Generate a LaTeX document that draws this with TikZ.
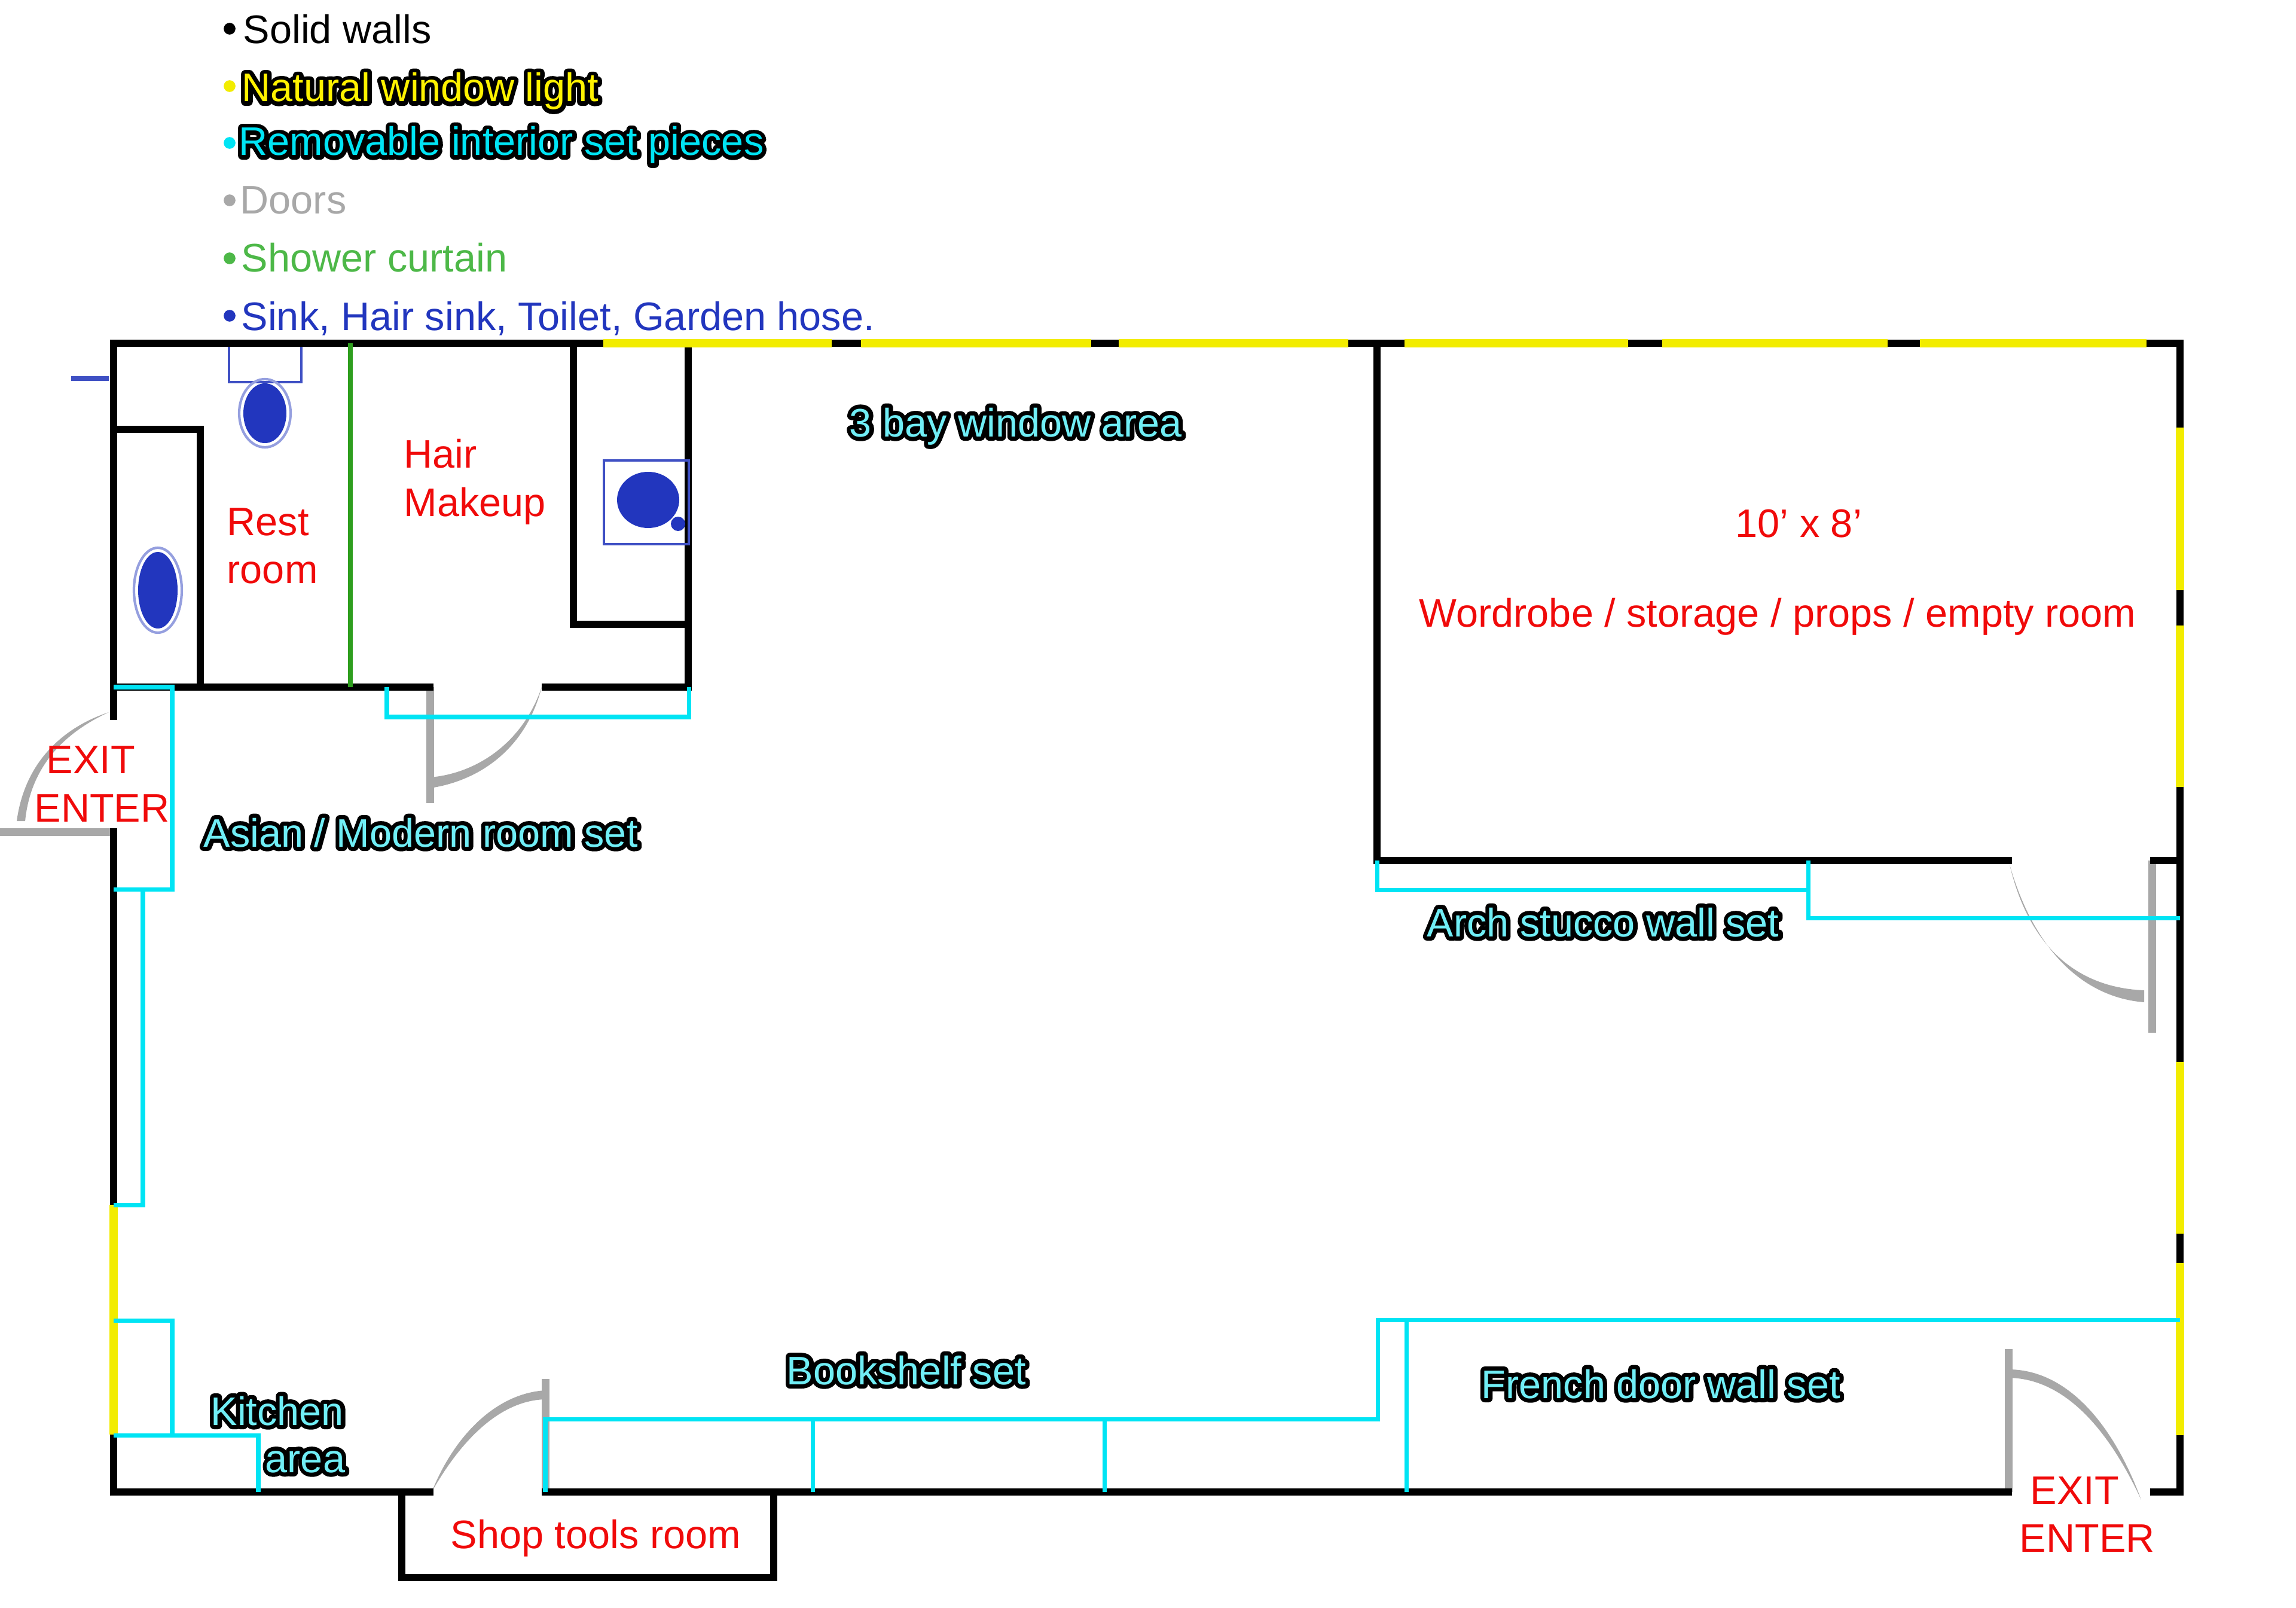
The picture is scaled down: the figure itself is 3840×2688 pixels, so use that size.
\documentclass[tikz,border=0pt]{standalone}
\usepackage{fontspec}
\setmainfont{Liberation Sans}
\usetikzlibrary{calc,positioning}
\definecolor{wallblack}{HTML}{000000}
\definecolor{windowyellow}{HTML}{F2EC00}
\definecolor{setcyan}{HTML}{00E4F4}
\definecolor{labelcyan}{HTML}{70EEF6}
\definecolor{doorgray}{HTML}{A8A8A8}
\definecolor{curtaingreen}{HTML}{2E9E1E}
\definecolor{legendgreen}{HTML}{4DB848}
\definecolor{fixtureblue}{HTML}{2236BE}
\definecolor{fixtureline}{HTML}{3F50C4}
\definecolor{roomred}{HTML}{F00A0A}
\newcommand{\outlined}[2]{\rlap{\special{pdf:code 1 j 1 J 4 w 0 0 0 RG 0 0 0 rg 2 Tr}#2\special{pdf:code 0 Tr}}\textcolor{#1}{#2}}
\begin{document}
\begin{tikzpicture}[x=0.01cm,y=-0.01cm]
    \tikzset{
        wall/.style={draw=wallblack,line width=3.6pt,line cap=rect},
        window/.style={draw=windowyellow,line width=3.9pt},
        setpiece/.style={draw=setcyan,line width=2pt},
        door/.style={draw=doorgray,line width=3.7pt},
        swing/.style={fill=doorgray},
        fixture/.style={draw=fixtureline,line width=1.2pt},
        txt/.style={inner sep=0pt,anchor=base west,font=\fontsize{18.95pt}{22pt}\selectfont},
        room/.style={txt,text=roomred},
        bullet/.style={circle,inner sep=0pt,minimum size=5.6pt},
    }
    \useasboundingbox (0,0) rectangle (3840,2688);

    \draw[door] (0,1391) -- (195,1391);
    \draw[door] (719,1149) -- (719,1343);
    \draw[door] (912,2306) -- (912,2495);
    \draw[door] (3599,1439) -- (3599,1727);
    \draw[door] (3359,2256) -- (3359,2495);
    \fill[swing] (28,1373) .. controls (42,1270) and (110,1215) .. (182,1191) .. controls (115,1222) and (52,1275) .. (42,1373) -- cycle;
    \fill[swing] (719,1300) .. controls (800,1293) and (875,1240) .. (906,1149) .. controls (880,1250) and (805,1305) .. (719,1318) -- cycle;
    \fill[swing] (912,2325) .. controls (830,2330) and (760,2400) .. (722,2495) .. controls (770,2410) and (835,2342) .. (912,2340) -- cycle;
    \fill[swing] (3586,1656) .. controls (3480,1652) and (3395,1590) .. (3361,1446) .. controls (3402,1590) and (3485,1668) .. (3586,1676) -- cycle;
    \fill[swing] (3359,2290) .. controls (3450,2290) and (3530,2370) .. (3581,2508) .. controls (3524,2385) and (3450,2305) .. (3359,2304) -- cycle;

    \draw[wall] (190,574) -- (3646,574);
    \draw[wall] (190,574) -- (190,1198);
    \draw[wall] (190,1391) -- (190,2495) -- (719,2495);
    \draw[wall] (912,2495) -- (3359,2495);
    \draw[wall] (3602,2495) -- (3646,2495) -- (3646,574);
    \draw[wall] (672,2495) -- (672,2638) -- (1294,2638) -- (1294,2495);
    \draw[wall] (190,718) -- (335,718) -- (335,1149);
    \draw[wall] (190,1149) -- (719,1149);
    \draw[wall] (912,1149) -- (1151,1149) -- (1151,574);
    \draw[wall] (959,574) -- (959,1044) -- (1151,1044);
    \draw[wall] (2303,574) -- (2303,1439) -- (3359,1439);
    \draw[wall] (3602,1439) -- (3646,1439);

    \foreach \xa/\xb in {1009/1391,1440/1825,1871/2255,2349/2723,2780/3157,3211/3590}
        \draw[window] (\xa,574) -- (\xb,574);
    \foreach \ya/\yb in {715/987,1046/1316,1776/2063,2112/2400}
        \draw[window] (3646,\ya) -- (3646,\yb);
    \draw[window] (190,2015) -- (190,2399);

    \draw[setpiece] (190,1149) -- (288,1149) -- (288,1487) -- (190,1487);
    \draw[setpiece] (239,1487) -- (239,2015) -- (190,2015);
    \draw[setpiece] (190,2208) -- (288,2208) -- (288,2400);
    \draw[setpiece] (190,2400) -- (432,2400) -- (432,2495);
    \draw[setpiece] (647,1149) -- (647,1199) -- (1152,1199) -- (1152,1149);
    \draw[setpiece] (912,2495) -- (912,2373) -- (2304,2373) -- (2304,2207) -- (3646,2207);
    \draw[setpiece] (1359,2373) -- (1359,2495);
    \draw[setpiece] (1847,2373) -- (1847,2495);
    \draw[setpiece] (2352,2207) -- (2352,2495);
    \draw[setpiece] (2303,1439) -- (2303,1488) -- (3024,1488);
    \draw[setpiece] (3024,1439) -- (3024,1535) -- (3646,1535);

    \draw[draw=curtaingreen,line width=2.2pt] (586,574) -- (586,1149);

    \draw[fixture,line width=2.2pt] (119,633) -- (182,633);
    \draw[fixture] (383,580) -- (383,639) -- (504,639) -- (504,580);
    \draw[fixture,draw=fixtureline!55] (443,691) ellipse (43 and 57);
    \fill[fixtureblue] (443,691) ellipse (36 and 50);
    \draw[fixture,draw=fixtureline!55] (264,987) ellipse (40 and 71);
    \fill[fixtureblue] (264,987) ellipse (33 and 64);
    \draw[fixture] (1010,770) rectangle (1152,910);
    \fill[fixtureblue] (1084,836) ellipse (52 and 47);
    \fill[fixtureblue] (1134,876) circle (12);

    \node[bullet,fill=black] (bulletwalls) at (384,48) {};
    \node[bullet,fill=windowyellow] (bulletlight) at (384,144) {};
    \node[bullet,fill=setcyan] (bulletset) at (384,239) {};
    \node[bullet,fill=doorgray] (bulletdoors) at (384,335) {};
    \node[bullet,fill=legendgreen] (bulletcurtain) at (384,432) {};
    \node[bullet,fill=fixtureblue] (bulletsink) at (384,528) {};
    \node[txt] (legendwalls) at (406,73) {Solid walls};
    \node[txt] (legendlight) at (404,170) {\outlined{yellow}{Natural window light}};
    \node[txt] (legendset) at (399,260) {\outlined{setcyan}{Removable interior set pieces}};
    \node[txt,text=doorgray] (legenddoors) at (401,358) {Doors};
    \node[txt,text=legendgreen] (legendcurtain) at (403,455) {Shower curtain};
    \node[txt,text=fixtureblue] (legendsink) at (403,552) {Sink, Hair sink, Toilet, Garden hose.};

    \node[room] (rest) at (379,895) {Rest};
    \node[room] (restb) at (379,975) {room};
    \node[room] (hair) at (675,782) {Hair};
    \node[room] (makeup) at (675,863) {Makeup};
    \node[room] (size) at (2902,898) {10’ x 8’};
    \node[room] (wordrobe) at (2373,1048) {Wordrobe / storage / props / empty room};
    \node[room] (exitleft) at (77,1293) {EXIT};
    \node[room] (enterleft) at (57,1374) {ENTER};
    \node[room] (shop) at (753,2589) {Shop tools room};
    \node[room] (exitright) at (3395,2515) {EXIT};
    \node[room] (enterright) at (3377,2595) {ENTER};

    \node[txt] (bay) at (1420,730) {\outlined{labelcyan}{3 bay window area}};
    \node[txt] (asian) at (340,1416) {\outlined{labelcyan}{Asian / Modern room set}};
    \node[txt] (arch) at (2386,1566) {\outlined{labelcyan}{Arch stucco wall set}};
    \node[txt] (kitchen) at (352,2383) {\outlined{labelcyan}{Kitchen}};
    \node[txt] (area) at (443,2462) {\outlined{labelcyan}{area}};
    \node[txt] (bookshelf) at (1315,2315) {\outlined{labelcyan}{Bookshelf set}};
    \node[txt] (french) at (2477,2338) {\outlined{labelcyan}{French door wall set}};
\end{tikzpicture}
\end{document}
